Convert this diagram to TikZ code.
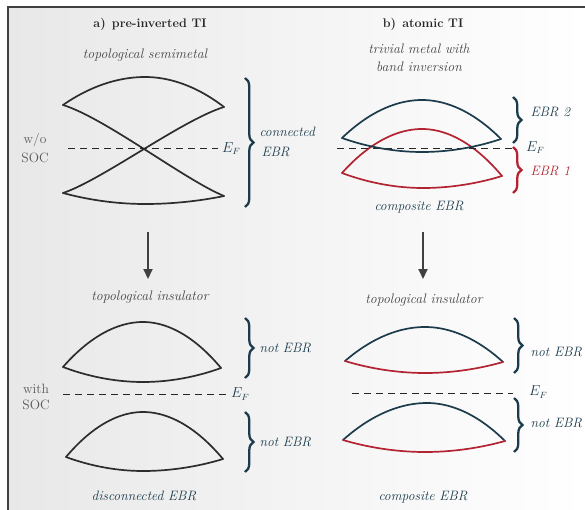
\documentclass[tikz,border=0pt]{standalone}
\usetikzlibrary{decorations.pathreplacing,arrows.meta}
\definecolor{tealc}{RGB}{28,60,76}
\definecolor{redc}{RGB}{178,36,50}
\definecolor{bandc}{RGB}{45,45,45}
\definecolor{labc}{RGB}{68,68,68}
\begin{document}
\begin{tikzpicture}[x=1pt,y=-1pt,
  bandline/.style={line width=1.7pt,line join=round,line cap=round},
  efline/.style={dash pattern=on 7pt off 5pt,line width=1pt,black!85},
  bracestyle/.style={decorate,decoration={brace,amplitude=8.5pt},line width=2.3pt,tealc},
  redbrace/.style={bracestyle,redc},
  titletext/.style={font=\fontsize{12.5}{15}\selectfont\bfseries,text=black!85},
  labtext/.style={font=\fontsize{13.8}{18}\selectfont\itshape,text=labc},
  ebrtext/.style={font=\fontsize{13.6}{20}\selectfont\itshape,text=tealc},
  redtext/.style={font=\fontsize{13.6}{20}\selectfont\itshape,text=redc},
  soctext/.style={font=\fontsize{13.5}{19}\selectfont,text=black!65,align=center},
  eftext/.style={font=\fontsize{13.5}{15}\selectfont,text=tealc,anchor=west,inner sep=0pt},
  arrowstyle/.style={line width=2pt,black!75,-{Triangle[length=10pt,width=9pt]}}
]
\useasboundingbox (0,0) rectangle (585,510);
\shade[left color=black!9,right color=white] (8,7) rectangle (585,510);
\draw[black!75,line width=1.6pt] (8,510) -- (8,7) -- (585,7);

% titles
\node[titletext] (ta) at (150,24) {a)\enspace pre-inverted TI};
\node[titletext] (tb) at (423,24) {b)\enspace atomic TI};
\node[labtext] (sm) at (145,55) {topological semimetal};
\node[labtext,align=center] (tm) at (419,58) {trivial metal with\\band inversion};

% side labels
\node[soctext] (wo) at (35,148) {w/o\\SOC};
\node[soctext,font=\fontsize{13.5}{16}\selectfont] (ws) at (36,397) {with\\SOC};

% ---------- panel a top ----------
\draw[bandline,bandc] (63,105) parabola bend (145,77) (224,107);
\draw[bandline,bandc] (63,193) parabola bend (145,204) (224,196);
\draw[bandline,bandc] (63,105) .. controls (105,118) and (185,180) .. (224,196);
\draw[bandline,bandc] (224,107) .. controls (182,120) and (102,180) .. (63,193);
\coordinate (efa1) at (68,149);
\node[eftext] (Efa1) at (222,149) {$E_F$};
\draw[efline] (efa1) -- (218,149);
\draw[bracestyle] (245,78) -- (245,207);
\node[ebrtext,anchor=west,align=left] (con) at (256,142) {connected\\\hspace{2pt}EBR};

% ---------- panel b top ----------
\draw[bandline,redc] (342,173) parabola bend (422,129) (502,176);
\draw[bandline,redc] (342,173) parabola bend (423,188) (502,176);
\coordinate (efb1) at (337,149);
\node[eftext] (Efb1) at (526,148) {$E_F$};
\draw[efline] (efb1) -- (512,149);
\draw[bandline,tealc] (342,138) parabola bend (422,100) (501,139);
\draw[bandline,tealc] (342,138) parabola bend (422,152) (501,139);
\draw[bracestyle] (513,97) -- (513,143);
\draw[redbrace] (513,147) -- (513,193);
\node[ebrtext,anchor=west] (e2) at (527,112) {EBR 2};
\node[redtext,anchor=west] (e1) at (527,171) {EBR 1};
\node[ebrtext] (ce1) at (419,207) {composite EBR};

% arrows
\coordinate (a1s) at (148,232); \coordinate (a1e) at (148,279);
\coordinate (b1s) at (423,232); \coordinate (b1e) at (423,279);
\draw[arrowstyle] (a1s) -- (a1e);
\draw[arrowstyle] (b1s) -- (b1e);
\node[labtext] (ti1) at (150,297) {topological insulator};
\node[labtext] (ti2) at (424,300) {topological insulator};

% ---------- panel a bottom ----------
\draw[bandline,bandc] (63,367) parabola bend (143,322) (221,368);
\draw[bandline,bandc] (63,367) parabola bend (143,382) (221,368);
\draw[bandline,bandc] (66,457) parabola bend (143,412) (223,459);
\draw[bandline,bandc] (66,457) parabola bend (143,471) (223,459);
\coordinate (efa2) at (63,394);
\node[eftext] (Efa2) at (231,394) {$E_F$};
\draw[efline] (efa2) -- (227,394);
\draw[bracestyle] (245,318) -- (245,378);
\draw[bracestyle] (245,412) -- (245,472);
\node[ebrtext,anchor=west] (n1) at (256,348) {not EBR};
\node[ebrtext,anchor=west] (n2) at (256,442) {not EBR};
\node[ebrtext] (de) at (144,496) {disconnected EBR};

% ---------- panel b bottom ----------
\draw[bandline,tealc] (345,361) parabola bend (425,327) (503,362);
\draw[bandline,redc] (345,361) parabola bend (425,373) (503,362);
\draw[bandline,tealc] (343,440) parabola bend (427,403) (505,441);
\draw[bandline,redc] (343,440) parabola bend (425,452) (505,441);
\coordinate (efb2) at (352,393);
\node[eftext] (Efb2) at (529,392) {$E_F$};
\draw[efline] (efb2) -- (513,393);
\draw[bracestyle] (514,318) -- (514,373);
\draw[bracestyle] (514,398) -- (514,452);
\node[ebrtext,anchor=west] (n3) at (527,352) {not EBR};
\node[ebrtext,anchor=west] (n4) at (527,423) {not EBR};
\node[ebrtext] (ce2) at (423,497) {composite EBR};
\end{tikzpicture}
\end{document}
